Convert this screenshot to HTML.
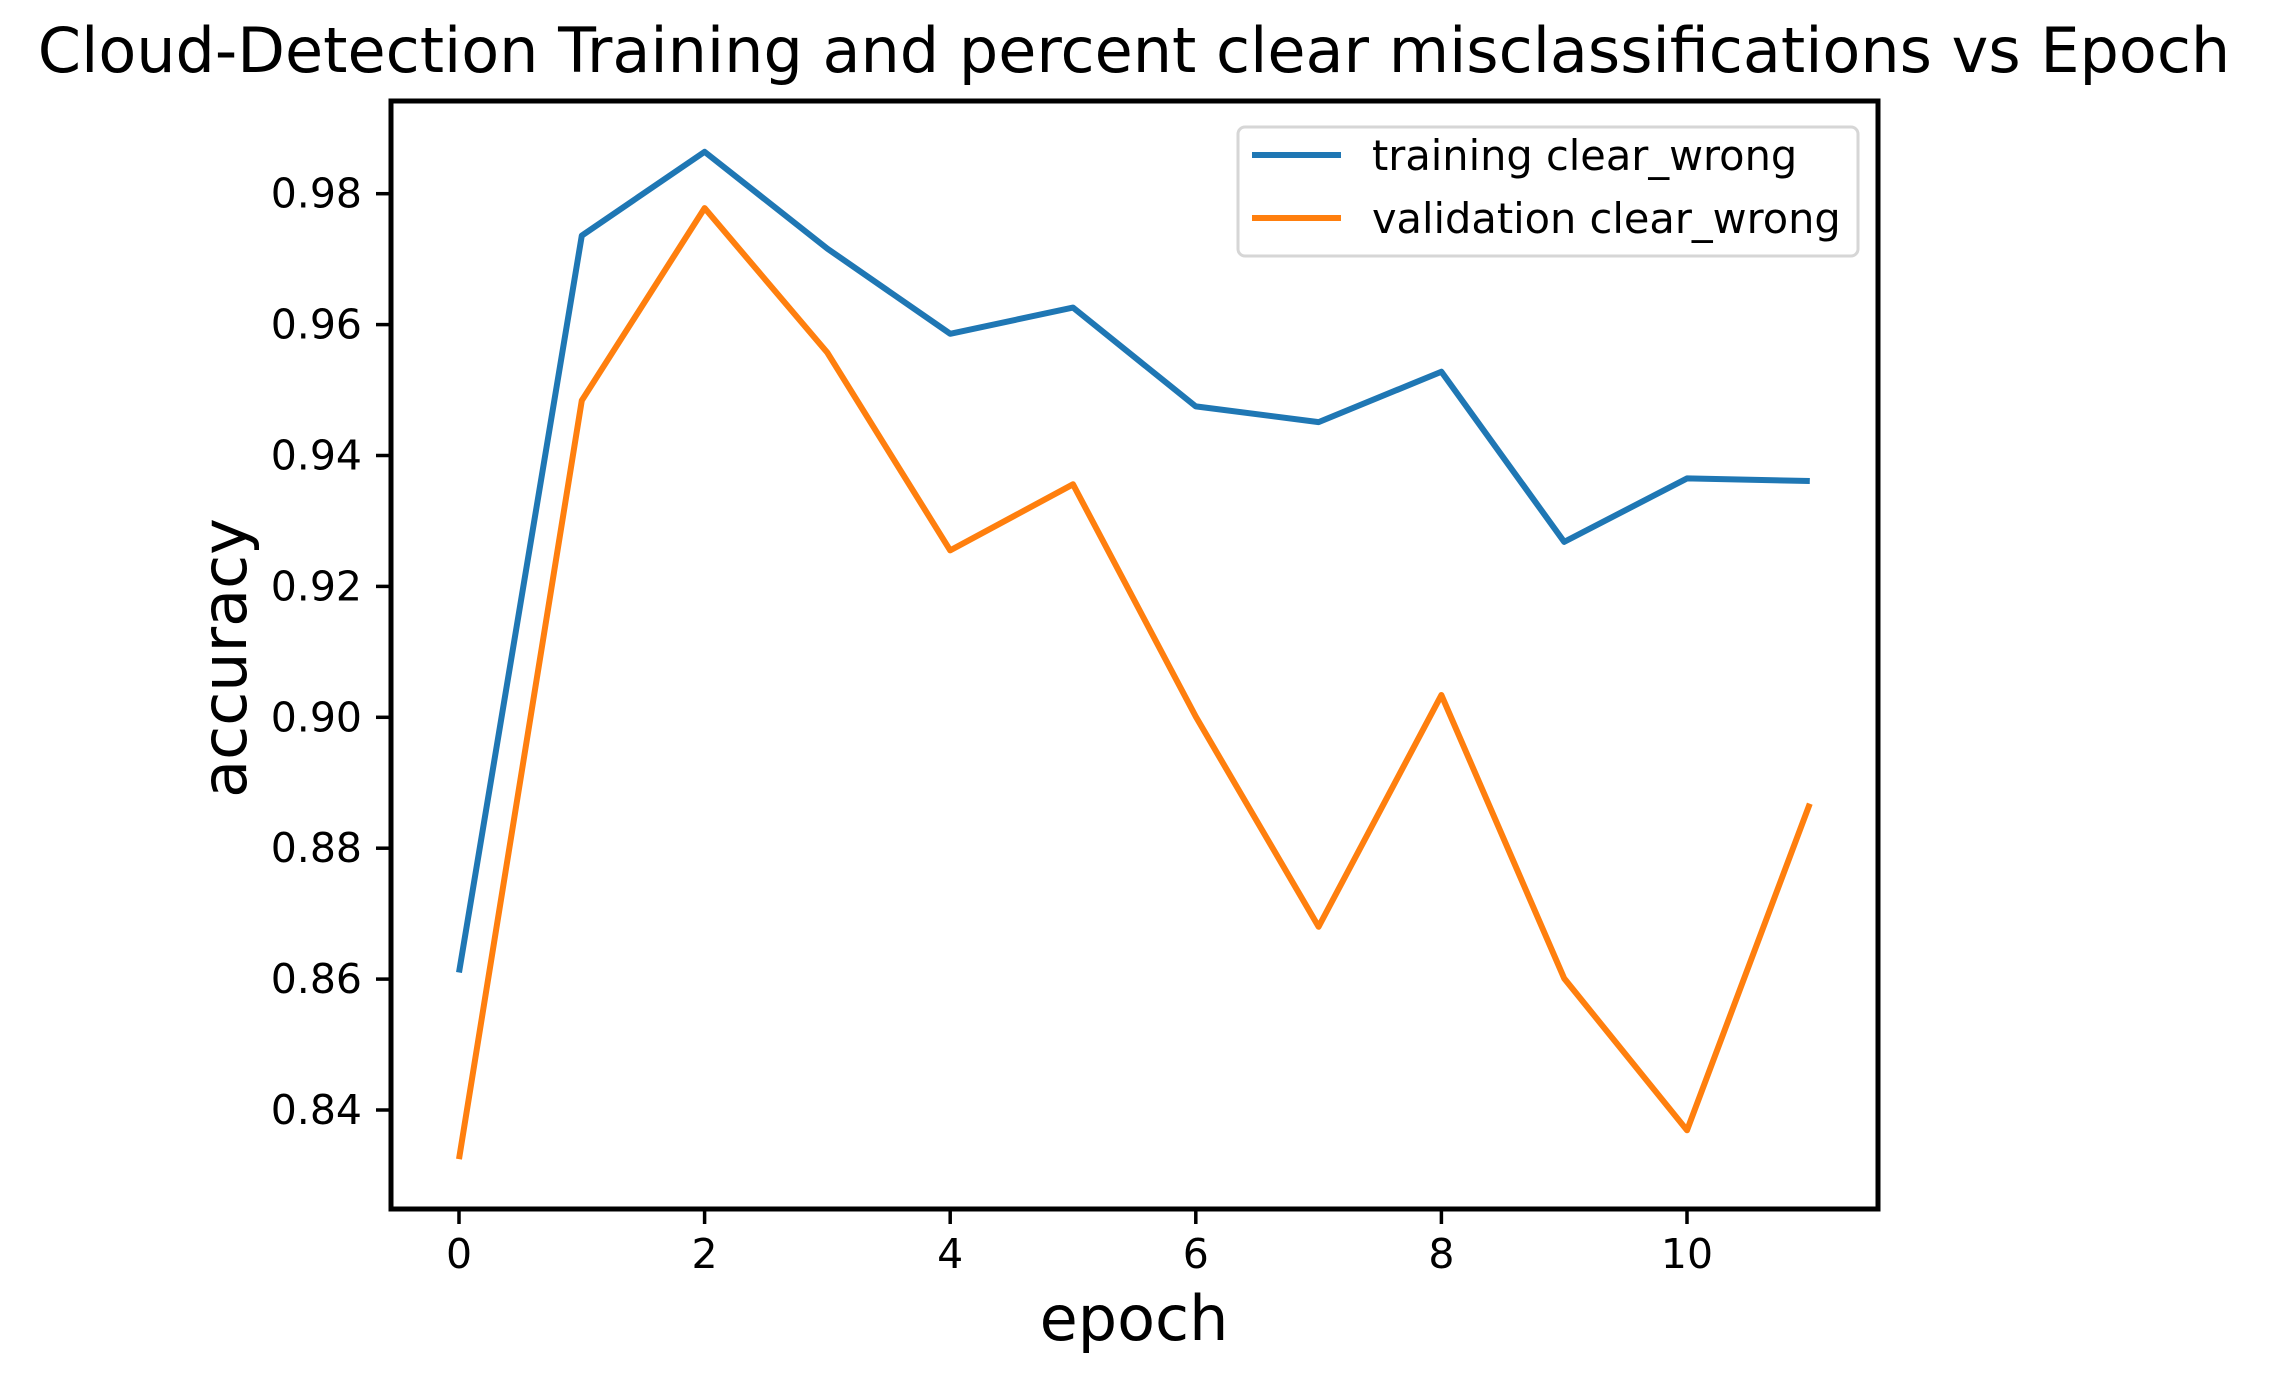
<!DOCTYPE html>
<html><head><meta charset="utf-8"><style>
html,body{margin:0;padding:0;background:#fff;}
svg{display:block;font-family:"DejaVu Sans","Liberation Sans",sans-serif;}
</style></head><body>
<svg id="chart" width="2269" height="1386" viewBox="0 0 2269 1386" xmlns="http://www.w3.org/2000/svg">
<rect width="2269" height="1386" fill="#fff"/>
<text x="1134" y="72" font-size="62" text-anchor="middle">Cloud-Detection Training and percent clear misclassifications vs Epoch</text>
<text x="1134" y="1340" font-size="62" text-anchor="middle">epoch</text>
<text x="0" y="0" font-size="62" text-anchor="middle" transform="translate(246,658) rotate(-90)">accuracy</text>
<g id="ticks"></g>
<g id="lines"></g>
<rect x="391" y="101" width="1487" height="1108" fill="none" stroke="#000" stroke-width="5"/>
<g>
<rect x="1238" y="127" width="620" height="129" rx="7" fill="#fff" fill-opacity="0.8" stroke="#d6d6d6" stroke-width="3"/>
<line x1="1252" y1="155" x2="1341" y2="155" stroke="#1f77b4" stroke-width="6"/>
<text x="1372" y="170" font-size="41.5">training clear_wrong</text>
<line x1="1252" y1="218" x2="1341" y2="218" stroke="#ff7f0e" stroke-width="6"/>
<text x="1372" y="233" font-size="41.5">validation clear_wrong</text>
</g>
</svg>
<script>
const epochs = [0,1,2,3,4,5,6,7,8,9,10,11];
const trainingValues = [0.861,0.9736,0.9864,0.9716,0.9586,0.9626,0.9475,0.9451,0.9528,0.9268,0.9365,0.9361];
const validationValues = [0.8325,0.9484,0.9778,0.9557,0.9255,0.9356,0.9001,0.868,0.9034,0.8601,0.8369,0.8868];
const xTicks = [0,2,4,6,8,10];
const yTicks = [0.84,0.86,0.88,0.90,0.92,0.94,0.96,0.98];

const NS = "http://www.w3.org/2000/svg";
function xs(v){ return 459 + v*122.8; }
function ys(v){ return 1110 - (v-0.84)/0.02*130.9; }

const tg = document.getElementById('ticks');
xTicks.forEach(t=>{
  const l=document.createElementNS(NS,'line');
  l.setAttribute('x1',xs(t));l.setAttribute('x2',xs(t));
  l.setAttribute('y1',1209);l.setAttribute('y2',1224);
  l.setAttribute('stroke','#000');l.setAttribute('stroke-width','3.5');
  
  
  tg.appendChild(l);
  const tx=document.createElementNS(NS,'text');
  tx.setAttribute('x',xs(t));tx.setAttribute('y',1268);
  tx.setAttribute('font-size','41');tx.setAttribute('text-anchor','middle');
  tx.textContent=String(t);
  
  
  tg.appendChild(tx);
});
yTicks.forEach(t=>{
  const l=document.createElementNS(NS,'line');
  l.setAttribute('x1',376);l.setAttribute('x2',391);
  l.setAttribute('y1',ys(t));l.setAttribute('y2',ys(t));
  l.setAttribute('stroke','#000');l.setAttribute('stroke-width','3.5');
  
  
  tg.appendChild(l);
  const tx=document.createElementNS(NS,'text');
  tx.setAttribute('x',362);tx.setAttribute('y',ys(t)+14);
  tx.setAttribute('font-size','41');tx.setAttribute('text-anchor','end');
  tx.textContent=t.toFixed(2);
  
  
  tg.appendChild(tx);
});

const lg = document.getElementById('lines');
function drawLine(vals,color,name){
  const p=document.createElementNS(NS,'polyline');
  p.setAttribute('points',vals.map((v,i)=>xs(epochs[i])+','+ys(v)).join(' '));
  p.setAttribute('fill','none');p.setAttribute('stroke',color);
  p.setAttribute('stroke-width','6');p.setAttribute('stroke-linejoin','round');
  
  
  lg.appendChild(p);
}
drawLine(trainingValues,'#1f77b4','training-line');
drawLine(validationValues,'#ff7f0e','validation-line');
</script>
</body></html>
